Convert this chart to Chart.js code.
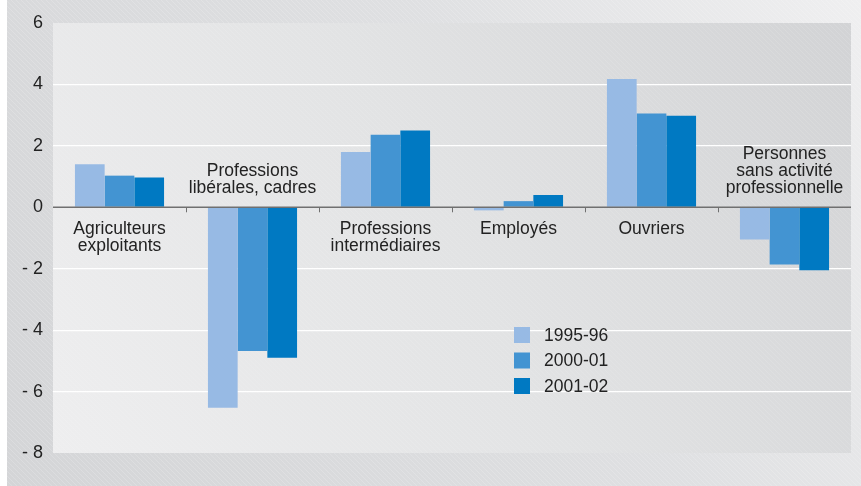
<!DOCTYPE html>
<html lang="fr">
<head>
<meta charset="UTF-8">
<title>Catégories socioprofessionnelles</title>
<script src="https://cdn.jsdelivr.net/npm/chart.js@4"></script>
<style>
  body { margin: 0; background: #fff; }
  #wrap { width: 861px; height: 486px; }
</style>
</head>
<body>
<div id="wrap"><canvas id="myChart" width="861" height="486"></canvas></div>

<script>
  // data
  var categories = [
    ['Agriculteurs', 'exploitants'],
    ['Professions', 'libérales, cadres'],
    ['Professions', 'intermédiaires'],
    ['Employés'],
    ['Ouvriers'],
    ['Personnes', 'sans activité', 'professionnelle']
  ];
  var seriesNames = ['1995-96', '2000-01', '2001-02'];
  var v1995 = [1.4, -6.53, 1.8, -0.1, 4.18, -1.05];
  var v2000 = [1.03, -4.68, 2.36, 0.2, 3.05, -1.86];
  var v2001 = [0.97, -4.9, 2.5, 0.4, 2.98, -2.05];
  var yTicks = [-8, -6, -4, -2, 0, 2, 4, 6];

  var colors = ['#97bae4', '#4394d2', '#0079c2'];
  var FONT = '"Liberation Sans", Arial, sans-serif';

  // backgrounds: outer panel + plot panel with faint diagonal hatching
  function hatch(ctx, x, y, w, h, alpha) {
    ctx.save();
    ctx.beginPath();
    ctx.rect(x, y, w, h);
    ctx.clip();
    ctx.strokeStyle = 'rgba(255,255,255,' + alpha + ')';
    ctx.lineWidth = 1;
    for (var k = -h; k < w; k += 5) {
      ctx.beginPath();
      ctx.moveTo(x + k, y);
      ctx.lineTo(x + k + h, y + h);
      ctx.stroke();
    }
    ctx.restore();
  }

  const bgPlugin = {
    id: 'bg',
    beforeDraw(chart) {
      const ctx = chart.ctx;
      const a = chart.chartArea;
      ctx.save();
      var g = ctx.createLinearGradient(7, 486, 861, 0);
      g.addColorStop(0, '#d4d5d7');
      g.addColorStop(0.6, '#dfe0e2');
      g.addColorStop(1, '#efeff0');
      ctx.fillStyle = g;
      ctx.fillRect(7, 0, 854, 486);
      hatch(ctx, 7, 0, 854, 486, 0.18);

      var p = ctx.createLinearGradient(a.left, a.bottom, a.right, a.top);
      p.addColorStop(0, '#eeeeef');
      p.addColorStop(0.5, '#e2e3e4');
      p.addColorStop(1, '#d2d3d5');
      ctx.fillStyle = p;
      ctx.fillRect(a.left, a.top, a.right - a.left, a.bottom - a.top);
      hatch(ctx, a.left, a.top, a.right - a.left, a.bottom - a.top, 0.12);
      ctx.restore();
    },
    afterDatasetsDraw(chart) {
      const ctx = chart.ctx;
      const a = chart.chartArea;
      const xs = chart.scales.x;
      const y0 = chart.scales.y.getPixelForValue(0);
      ctx.save();
      // zero line
      ctx.strokeStyle = '#707070';
      ctx.lineWidth = 1.5;
      ctx.beginPath();
      ctx.moveTo(a.left, y0);
      ctx.lineTo(a.right, y0);
      ctx.stroke();
      // small ticks between categories
      ctx.lineWidth = 1;
      for (var i = 0; i < categories.length - 1; i++) {
        var bx = Math.round((xs.getPixelForValue(i) + xs.getPixelForValue(i + 1)) / 2) + 0.5;
        ctx.beginPath();
        ctx.moveTo(bx, y0);
        ctx.lineTo(bx, y0 + 5);
        ctx.stroke();
      }
      // category labels next to the zero line
      ctx.fillStyle = '#222';
      ctx.font = '17.5px ' + FONT;
      ctx.textAlign = 'center';
      ctx.textBaseline = 'middle';
      categories.forEach(function (lines, i) {
        var cx = xs.getPixelForValue(i);
        var sum = v1995[i] + v2000[i] + v2001[i];
        var lh = 17;
        lines.forEach(function (t, j) {
          var ty = sum < 0
            ? y0 - 19 - (lines.length - 1 - j) * lh
            : y0 + 22 + j * lh;
          ctx.fillText(t, cx, ty);
        });
      });
      // legend inside the plot
      var lx = a.left + 461, ly = a.top + 312;
      seriesNames.forEach(function (name, i) {
        var cy = ly + i * 25.5;
        ctx.fillStyle = colors[i];
        ctx.fillRect(lx, cy - 8, 16, 16);
        ctx.fillStyle = '#222';
        ctx.textAlign = 'left';
        ctx.fillText(name, lx + 30, cy + 1);
      });
      ctx.restore();
    }
  };

  const ctx = document.getElementById('myChart');

  new Chart(ctx, {
    type: 'bar',
    data: {
      labels: categories,
      datasets: [
        { label: seriesNames[0], data: v1995, backgroundColor: colors[0] },
        { label: seriesNames[1], data: v2000, backgroundColor: colors[1] },
        { label: seriesNames[2], data: v2001, backgroundColor: colors[2] }
      ]
    },
    options: {
      responsive: false,
      animation: false,
      layout: { padding: { left: 7, top: 23, right: 10, bottom: 33 } },
      datasets: {
        bar: { categoryPercentage: 0.67, barPercentage: 1, borderWidth: 0 }
      },
      scales: {
        x: { display: false },
        y: {
          min: -8,
          max: 6,
          afterBuildTicks: function (scale) {
            scale.ticks = yTicks.map(v => ({ value: v }));
          },
          afterFit: function (scale) { scale.width = 46; },
          border: { display: false },
          grid: {
            drawTicks: false,
            color: function (c) {
              var v = c.tick && c.tick.value;
              if (v === 0 || v === -8 || v === 6) return 'rgba(0,0,0,0)';
              return '#ffffff';
            },
            lineWidth: 1.2
          },
          ticks: {
            padding: 10,
            color: '#222',
            font: { family: FONT, size: 18 },
            callback: function (v) { return v < 0 ? '- ' + Math.abs(v) : '' + v; }
          }
        }
      },
      plugins: {
        legend: { display: false },
        tooltip: { enabled: false }
      }
    },
    plugins: [bgPlugin]
  });
</script>
</body>
</html>
